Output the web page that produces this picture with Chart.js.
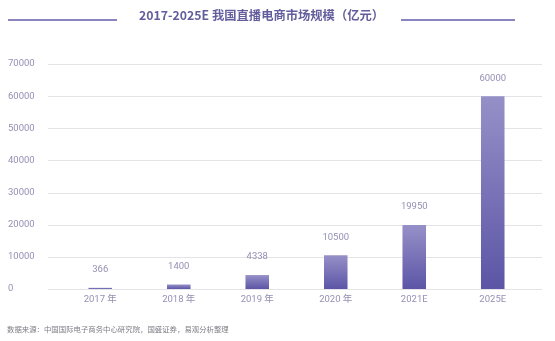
<!DOCTYPE html>
<html>
<head>
<meta charset="utf-8">
<script src="https://cdn.jsdelivr.net/npm/chart.js@4/dist/chart.umd.min.js"></script>
<style>
    html, body { margin: 0; padding: 0; background: #fff; }
    #wrap { position: relative; width: 555px; height: 341px; overflow: hidden; }
    #chart { position: absolute; left: 0; top: 0; }
    .title {
        position: absolute; top: 5px; left: 0; width: 555px; height: 20px;
        font-family: "Noto Sans CJK SC", "Noto Sans", sans-serif;
        font-size: 12.3px; font-weight: 700; color: #625d9c;
    }
    .title span { position: absolute; left: 139px; top: 0; line-height: 20px; white-space: nowrap; }
    .line { position: absolute; top: 14px; height: 1.5px; background: #8a85c0; }
    .source {
        position: absolute; left: 7px; top: 323px;
        font-family: "Noto Sans CJK SC", sans-serif;
        font-size: 7.4px; color: #7d7d85; white-space: nowrap;
    }
</style>
</head>
<body>
<div id="wrap">
    <canvas id="chart" width="555" height="341"></canvas>
    <div class="title">
        <div class="line" style="left:8px; width:109px;"></div>
        <span>2017-2025E 我国直播电商市场规模（亿元）</span>
        <div class="line" style="left:401px; width:114px;"></div>
    </div>
    <div class="source">数据来源：中国国际电子商务中心研究院，国盛证券，易观分析整理</div>
</div>
<script>
document.addEventListener('DOMContentLoaded', () => {
    const years = ['2017 年', '2018 年', '2019 年', '2020 年', '2021E', '2025E'];
    const marketSize = [366, 1400, 4338, 10500, 19950, 60000];
    const yTicks = [0, 10000, 20000, 30000, 40000, 50000, 60000, 70000];

    const tickColor = '#9490b4';
    const fontFamily = 'Roboto, "Noto Sans CJK SC", sans-serif';

    // 横向网格线, 比绘图区稍宽
    const gridPlugin = {
        id: 'wideGrid',
        beforeDatasetsDraw(chart) {
            const ctx = chart.ctx;
            const yScale = chart.scales.y;
            ctx.save();
            ctx.strokeStyle = '#e3e3e8';
            ctx.lineWidth = 1;
            yScale.ticks.forEach(t => {
                const y = Math.round(yScale.getPixelForValue(t.value)) + 0.5;
                ctx.beginPath();
                ctx.moveTo(48, y);
                ctx.lineTo(542, y);
                ctx.stroke();
            });
            ctx.restore();
        }
    };

    // 柱子上方数值
    const labelPlugin = {
        id: 'barLabels',
        afterDatasetsDraw(chart) {
            const ctx = chart.ctx;
            const meta = chart.getDatasetMeta(0);
            ctx.save();
            ctx.font = '9.5px ' + fontFamily;
            ctx.fillStyle = tickColor;
            ctx.textAlign = 'center';
            ctx.textBaseline = 'middle';
            meta.data.forEach((bar, i) => {
                ctx.fillText(String(marketSize[i]), bar.x, bar.y - 18);
            });
            ctx.restore();
        }
    };

    new Chart(document.getElementById('chart').getContext('2d'), {
        type: 'bar',
        data: {
            labels: years,
            datasets: [{
                data: marketSize,
                categoryPercentage: 1,
                barPercentage: 0.3,
                backgroundColor: (context) => {
                    const chart = context.chart;
                    if (!chart.chartArea) return '#7670b8';
                    const yScale = chart.scales.y;
                    const top = yScale.getPixelForValue(context.raw);
                    const bottom = yScale.getPixelForValue(0);
                    const g = chart.ctx.createLinearGradient(0, top, 0, bottom);
                    g.addColorStop(0, '#9690c8');
                    g.addColorStop(1, '#5c55a6');
                    return g;
                }
            }]
        },
        options: {
            responsive: false,
            animation: false,
            layout: { padding: { top: 64, bottom: 30, left: 8, right: 23 } },
            plugins: {
                legend: { display: false },
                tooltip: { enabled: false }
            },
            scales: {
                x: {
                    grid: { display: false, drawTicks: false },
                    border: { display: false },
                    ticks: {
                        color: tickColor,
                        font: { family: fontFamily, size: 9.5 },
                        padding: 5
                    },
                    afterFit(scale) { scale.height = 22; }
                },
                y: {
                    min: 0,
                    max: 70000,
                    grid: { display: false, drawTicks: false },
                    border: { display: false },
                    afterBuildTicks(scale) {
                        scale.ticks = yTicks.map(v => ({ value: v }));
                    },
                    ticks: {
                        color: tickColor,
                        font: { family: fontFamily, size: 9.5 },
                        crossAlign: 'far',
                        padding: 0,
                        callback: (value) => String(value)
                    },
                    afterFit(scale) { scale.width = 53; }
                }
            }
        },
        plugins: [gridPlugin, labelPlugin]
    });
});
</script>
</body>
</html>
